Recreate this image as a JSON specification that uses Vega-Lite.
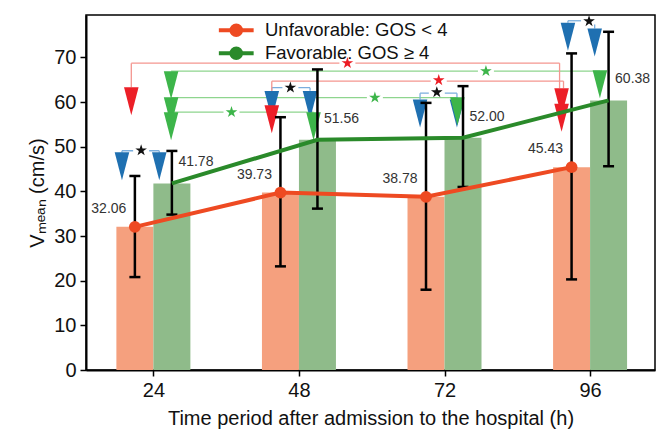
{
  "$schema": "https://vega.github.io/schema/vega-lite/v6.json",
  "width": 569,
  "height": 355,
  "autosize": "none",
  "padding": {"left": 86, "top": 15, "right": 2, "bottom": 68},
  "config": {
    "font": "Liberation Sans",
    "view": {"stroke": "#000", "strokeWidth": 1.5},
    "axis": {"domainColor": "#000", "domainWidth": 2, "tickColor": "#000", "tickWidth": 1.5, "tickSize": 6, "labelFontSize": 20, "labelColor": "#111", "titleFontSize": 20, "titleFontWeight": "normal", "titleColor": "#111", "grid": false, "labelFont": "Liberation Sans", "titleFont": "Liberation Sans"}
  },
  "datasets": {
    "main": [
      {"hour": 24, "group": "Unfavorable", "mean": 32.06, "lo": 20.81, "hi": 43.45},
      {"hour": 24, "group": "Favorable", "mean": 41.78, "lo": 34.80, "hi": 49.06},
      {"hour": 48, "group": "Unfavorable", "mean": 39.73, "lo": 23.21, "hi": 56.61},
      {"hour": 48, "group": "Favorable", "mean": 51.56, "lo": 36.14, "hi": 67.31},
      {"hour": 72, "group": "Unfavorable", "mean": 38.78, "lo": 17.98, "hi": 59.82},
      {"hour": 72, "group": "Favorable", "mean": 52.00, "lo": 40.99, "hi": 63.57},
      {"hour": 96, "group": "Unfavorable", "mean": 45.43, "lo": 20.29, "hi": 70.90},
      {"hour": 96, "group": "Favorable", "mean": 60.38, "lo": 45.63, "hi": 75.74}
    ],
    "seg": [
      {"cat": "between", "hour": 18.82, "hour2": 24.97, "level": 49.10, "top1": 48.65, "top2": 48.65, "sx": 21.98, "sy": 49.2},
      {"cat": "between", "hour": 43.52, "hour2": 49.83, "level": 63.23, "top1": 62.51, "top2": 62.51, "sx": 46.59, "sy": 63.23},
      {"cat": "between", "hour": 67.97, "hour2": 74.05, "level": 62.0, "top1": 60.58, "top2": 60.58, "sx": 70.73, "sy": 62.2},
      {"cat": "between", "hour": 92.35, "hour2": 96.76, "level": 78.21, "top1": 77.76, "top2": 76.5, "sx": 95.83, "sy": 78.1},
      {"cat": "unfav", "hour": 20.36, "hour2": 90.97, "level": 68.72, "top1": 63.34, "top2": 63.12, "sx": 55.99, "sy": 68.72},
      {"cat": "unfav", "hour": 43.52, "hour2": 91.62, "level": 64.69, "top1": 59.30, "top2": 63.12, "sx": 71.05, "sy": 64.9},
      {"cat": "fav", "hour": 26.92, "hour2": 97.62, "level": 66.93, "top1": 66.93, "top2": 66.93, "sx": 78.83, "sy": 66.93},
      {"cat": "fav", "hour": 26.92, "hour2": 74.13, "level": 60.99, "top1": 60.99, "top2": 60.99, "sx": 60.52, "sy": 60.99},
      {"cat": "fav", "hour": 26.92, "hour2": 50.40, "level": 57.74, "top1": 57.74, "top2": 57.74, "sx": 36.88, "sy": 57.74}
    ],
    "tri": [
      {"cat": "between", "hour": 18.82, "value": 45.63},
      {"cat": "between", "hour": 24.97, "value": 45.63},
      {"cat": "between", "hour": 43.52, "value": 59.37},
      {"cat": "between", "hour": 49.83, "value": 59.37},
      {"cat": "between", "hour": 67.97, "value": 57.44},
      {"cat": "between", "hour": 74.05, "value": 57.44},
      {"cat": "between", "hour": 92.35, "value": 74.62},
      {"cat": "between", "hour": 96.76, "value": 73.36},
      {"cat": "unfav", "hour": 20.36, "value": 60.20},
      {"cat": "unfav", "hour": 43.52, "value": 56.17},
      {"cat": "unfav", "hour": 91.3, "value": 59.98},
      {"cat": "unfav", "hour": 91.3, "value": 56.50},
      {"cat": "fav", "hour": 26.92, "value": 63.79},
      {"cat": "fav", "hour": 26.92, "value": 57.96},
      {"cat": "fav", "hour": 26.92, "value": 54.60},
      {"cat": "fav", "hour": 50.40, "value": 54.60},
      {"cat": "fav", "hour": 74.13, "value": 57.96},
      {"cat": "fav", "hour": 97.62, "value": 64.01}
    ]
  },
  "layer": [
    {
      "data": {"name": "main"},
      "mark": {"type": "bar", "orient": "vertical", "width": 37, "xOffset": {"expr": "datum.group === 'Unfavorable' ? -18.5 : 18.5"}},
      "encoding": {
        "x": {"field": "hour", "type": "quantitative", "scale": {"domain": [13.715, 105.88], "nice": false, "zero": false}, "axis": {"values": [24, 48, 72, 96], "labelPadding": 4, "titlePadding": 8, "title": "Time period after admission to the hospital (h)"}},
        "y": {"field": "mean", "type": "quantitative", "stack": null, "scale": {"domain": [0, 79.5], "nice": false}, "axis": {"values": [0, 10, 20, 30, 40, 50, 60, 70], "labelPadding": 4, "titlePadding": 6, "title": "Vₘₑₐₙ (cm/s)"}},
        "color": {"field": "group", "type": "nominal", "scale": {"domain": ["Unfavorable", "Favorable", "between", "unfav", "fav"], "range": ["#F5A07E", "#8FBB8A", "#111111", "#EC1C24", "#3DB54A"]}, "legend": null}
      }
    },
    {
      "data": {"name": "seg"},
      "mark": {"type": "rule", "strokeWidth": 1.3},
      "encoding": {
        "x": {"field": "hour", "type": "quantitative", "scale": {"domain": [13.715, 105.88], "nice": false, "zero": false}},
        "x2": {"field": "hour2"},
        "y": {"field": "level", "type": "quantitative", "scale": {"domain": [0, 79.5], "nice": false}},
        "stroke": {"field": "cat", "type": "nominal", "scale": {"domain": ["Unfavorable", "Favorable", "unfav", "fav", "between"], "range": ["#EE4A22", "#2A8A2A", "#F4968F", "#8ED58E", "#7AAEDD"]}}
      }
    },
    {
      "data": {"name": "seg"},
      "mark": {"type": "rule", "strokeWidth": 1.3},
      "encoding": {
        "x": {"field": "hour", "type": "quantitative", "scale": {"domain": [13.715, 105.88], "nice": false, "zero": false}},
        "y": {"field": "top1", "type": "quantitative", "scale": {"domain": [0, 79.5], "nice": false}},
        "y2": {"field": "level"},
        "stroke": {"field": "cat", "type": "nominal", "scale": {"domain": ["Unfavorable", "Favorable", "unfav", "fav", "between"], "range": ["#EE4A22", "#2A8A2A", "#F4968F", "#8ED58E", "#7AAEDD"]}}
      }
    },
    {
      "data": {"name": "seg"},
      "mark": {"type": "rule", "strokeWidth": 1.3},
      "encoding": {
        "x": {"field": "hour2", "type": "quantitative", "scale": {"domain": [13.715, 105.88], "nice": false, "zero": false}},
        "y": {"field": "top2", "type": "quantitative", "scale": {"domain": [0, 79.5], "nice": false}},
        "y2": {"field": "level"},
        "stroke": {"field": "cat", "type": "nominal", "scale": {"domain": ["Unfavorable", "Favorable", "unfav", "fav", "between"], "range": ["#EE4A22", "#2A8A2A", "#F4968F", "#8ED58E", "#7AAEDD"]}}
      }
    },
    {
      "data": {"name": "seg"},
      "mark": {"type": "point", "shape": "M-1,-0.4L1,-0.4L1,0.4L-1,0.4Z", "size": 256, "filled": true, "fill": "#ffffff", "opacity": 1, "strokeWidth": 0},
      "encoding": {
        "x": {"field": "sx", "type": "quantitative", "scale": {"domain": [13.715, 105.88], "nice": false, "zero": false}},
        "y": {"field": "sy", "type": "quantitative", "scale": {"domain": [0, 79.5], "nice": false}}
      }
    },
    {
      "data": {"name": "tri"},
      "mark": {"type": "point", "shape": "M-0.52,-1L0.52,-1L0,1Z", "size": 784, "filled": true, "opacity": 1, "strokeWidth": 0},
      "encoding": {
        "x": {"field": "hour", "type": "quantitative", "scale": {"domain": [13.715, 105.88], "nice": false, "zero": false}},
        "y": {"field": "value", "type": "quantitative", "scale": {"domain": [0, 79.5], "nice": false}},
        "fill": {"field": "cat", "type": "nominal", "scale": {"domain": ["between", "unfav", "fav"], "range": ["#1F70B1", "#EC1F27", "#3DB54A"]}, "legend": null}
      }
    },
    {
      "data": {"name": "main"},
      "mark": {"type": "rule", "color": "#000", "strokeWidth": 2.5, "xOffset": {"expr": "datum.group === 'Unfavorable' ? -18.5 : 18.5"}},
      "encoding": {
        "x": {"field": "hour", "type": "quantitative", "scale": {"domain": [13.715, 105.88], "nice": false, "zero": false}},
        "y": {"field": "lo", "type": "quantitative", "scale": {"domain": [0, 79.5], "nice": false}},
        "y2": {"field": "hi"}
      }
    },
    {
      "data": {"name": "main"},
      "mark": {"type": "point", "shape": "stroke", "size": 121, "color": "#000", "strokeWidth": 2.5, "opacity": 1, "xOffset": {"expr": "datum.group === 'Unfavorable' ? -18.5 : 18.5"}},
      "encoding": {
        "x": {"field": "hour", "type": "quantitative", "scale": {"domain": [13.715, 105.88], "nice": false, "zero": false}},
        "y": {"field": "lo", "type": "quantitative", "scale": {"domain": [0, 79.5], "nice": false}}
      }
    },
    {
      "data": {"name": "main"},
      "mark": {"type": "point", "shape": "stroke", "size": 121, "color": "#000", "strokeWidth": 2.5, "opacity": 1, "xOffset": {"expr": "datum.group === 'Unfavorable' ? -18.5 : 18.5"}},
      "encoding": {
        "x": {"field": "hour", "type": "quantitative", "scale": {"domain": [13.715, 105.88], "nice": false, "zero": false}},
        "y": {"field": "hi", "type": "quantitative", "scale": {"domain": [0, 79.5], "nice": false}}
      }
    },
    {
      "data": {"name": "main"},
      "mark": {"type": "line", "strokeWidth": 4, "xOffset": {"expr": "datum.group === 'Unfavorable' ? -18.5 : 18.5"}},
      "encoding": {
        "x": {"field": "hour", "type": "quantitative", "scale": {"domain": [13.715, 105.88], "nice": false, "zero": false}},
        "y": {"field": "mean", "type": "quantitative", "scale": {"domain": [0, 79.5], "nice": false}},
        "stroke": {"field": "group", "type": "nominal", "scale": {"domain": ["Unfavorable", "Favorable", "unfav", "fav", "between"], "range": ["#EE4A22", "#2A8A2A", "#F4968F", "#8ED58E", "#7AAEDD"]},
          "legend": {"values": ["Unfavorable", "Favorable"], "orient": "none", "legendX": 141, "legendY": 6, "title": null, "padding": 0,
            "labelExpr": "datum.label == 'Unfavorable' ? 'Unfavorable: GOS < 4' : 'Favorable: GOS ≥ 4'",
            "symbolType": "M-2.9,0L2.9,0M0.8,0A0.8,0.8,0,1,1,-0.8,0A0.8,0.8,0,1,1,0.8,0M0.25,0A0.25,0.25,0,1,1,-0.25,0A0.25,0.25,0,1,1,0.25,0",
            "symbolSize": 144, "symbolStrokeWidth": 4, "symbolOpacity": 1, "labelFontSize": 18.5, "labelLimit": 400, "labelFont": "Liberation Sans", "labelColor": "#111", "labelOffset": 19.5, "rowPadding": -4}}
      }
    },
    {
      "data": {"name": "main"},
      "transform": [{"filter": "datum.group === 'Unfavorable'"}],
      "mark": {"type": "point", "filled": true, "fill": "#EE4A22", "opacity": 1, "size": 140, "strokeWidth": 0, "xOffset": -18.5},
      "encoding": {
        "x": {"field": "hour", "type": "quantitative", "scale": {"domain": [13.715, 105.88], "nice": false, "zero": false}},
        "y": {"field": "mean", "type": "quantitative", "scale": {"domain": [0, 79.5], "nice": false}}
      }
    },
    {
      "data": {"name": "main"},
      "mark": {"type": "text", "fontSize": 14, "font": "Liberation Sans", "color": "#333", "baseline": "middle",
        "align": {"expr": "datum.group === 'Unfavorable' ? 'right' : 'left'"},
        "xOffset": {"expr": "datum.group === 'Unfavorable' ? -27 : 25"},
        "dy": {"expr": "datum.group === 'Unfavorable' ? -18 : -21"}},
      "encoding": {
        "x": {"field": "hour", "type": "quantitative", "scale": {"domain": [13.715, 105.88], "nice": false, "zero": false}},
        "y": {"field": "mean", "type": "quantitative", "scale": {"domain": [0, 79.5], "nice": false}},
        "text": {"field": "mean", "type": "quantitative", "format": ".2f"}
      }
    },
    {
      "data": {"name": "seg"},
      "mark": {"type": "point", "shape": "M0,-1L0.223,-0.307L0.951,-0.309L0.361,0.117L0.588,0.809L0,0.38L-0.588,0.809L-0.361,0.117L-0.951,-0.309L-0.223,-0.307Z", "size": 150, "filled": true, "opacity": 1, "strokeWidth": 0},
      "encoding": {
        "x": {"field": "sx", "type": "quantitative", "scale": {"domain": [13.715, 105.88], "nice": false, "zero": false}},
        "y": {"field": "sy", "type": "quantitative", "scale": {"domain": [0, 79.5], "nice": false}},
        "color": {"field": "cat", "type": "nominal", "scale": {"domain": ["Unfavorable", "Favorable", "between", "unfav", "fav"], "range": ["#F5A07E", "#8FBB8A", "#111111", "#EC1C24", "#3DB54A"]}, "legend": null}
      }
    }
  ]
}
